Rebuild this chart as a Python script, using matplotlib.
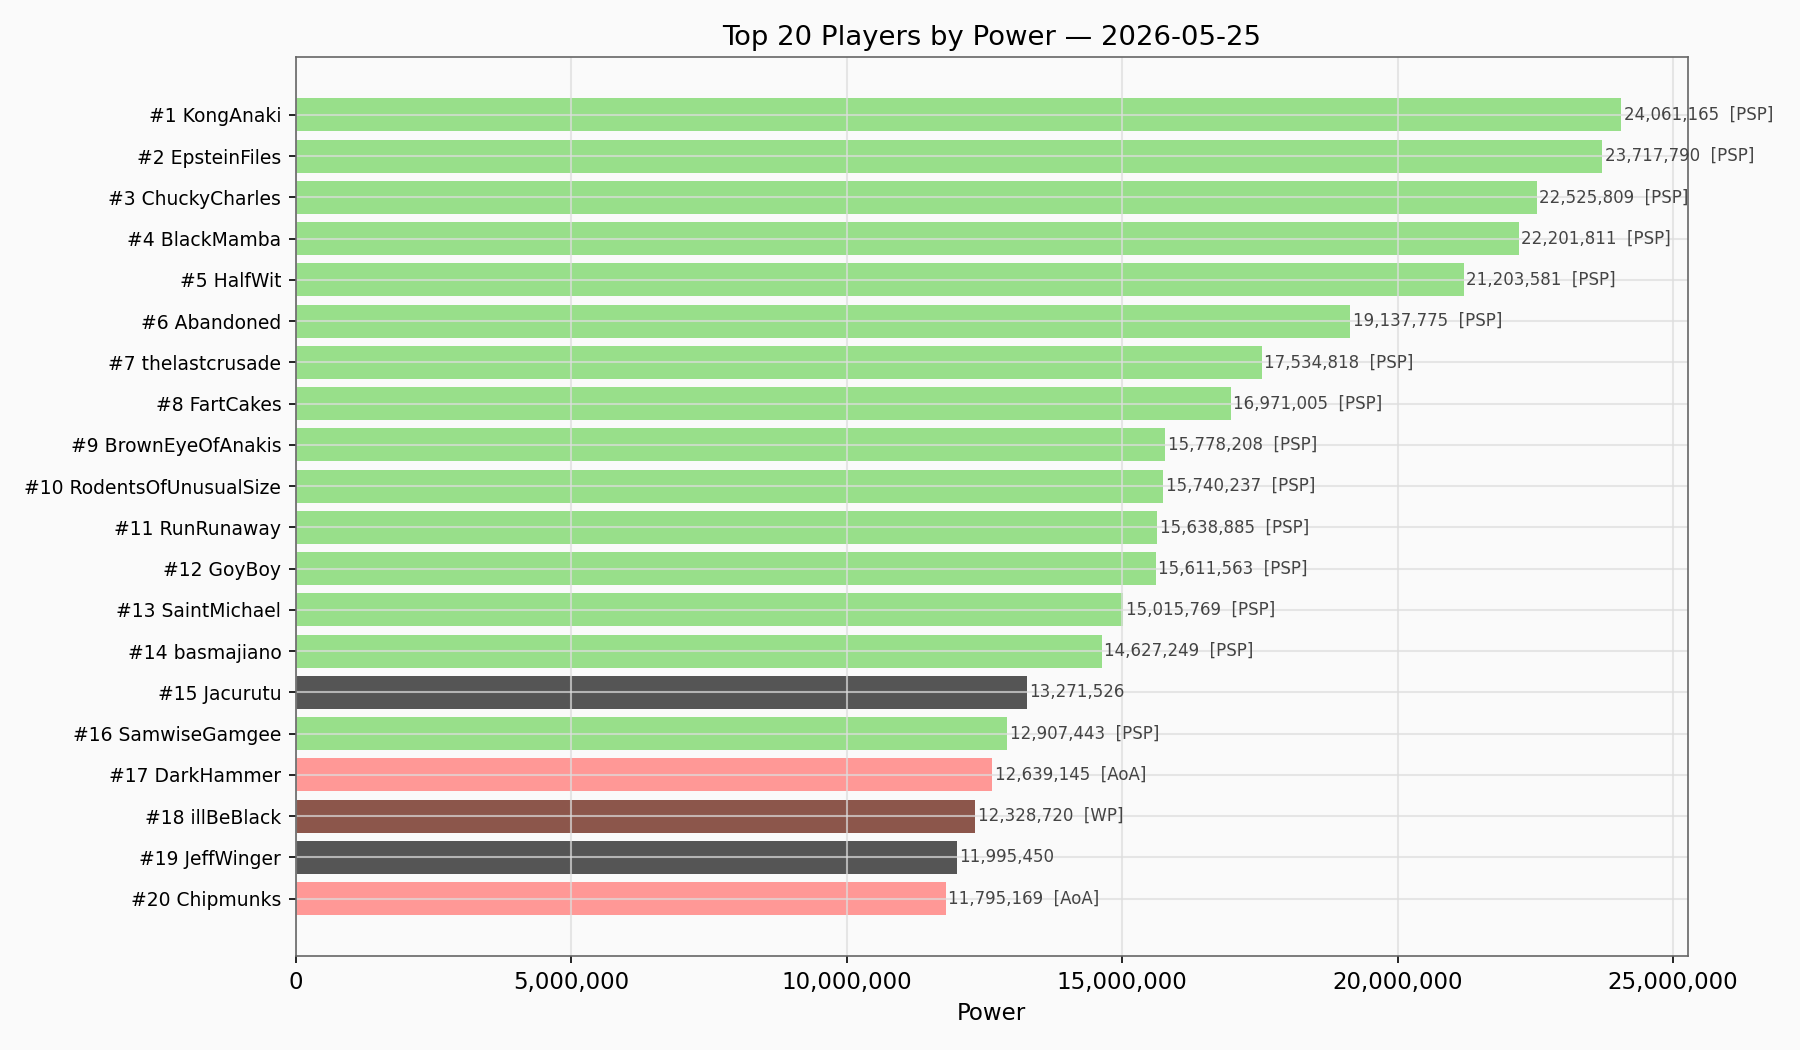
import matplotlib
matplotlib.use("Agg")
import matplotlib.pyplot as plt
from matplotlib.ticker import FuncFormatter

players = ["KongAnaki", "EpsteinFiles", "ChuckyCharles", "BlackMamba", "HalfWit",
           "Abandoned", "thelastcrusade", "FartCakes", "BrownEyeOfAnakis",
           "RodentsOfUnusualSize", "RunRunaway", "GoyBoy", "SaintMichael",
           "basmajiano", "Jacurutu", "SamwiseGamgee", "DarkHammer", "illBeBlack",
           "JeffWinger", "Chipmunks"]
power = [24061165, 23717790, 22525809, 22201811, 21203581, 19137775, 17534818,
         16971005, 15778208, 15740237, 15638885, 15611563, 15015769, 14627249,
         13271526, 12907443, 12639145, 12328720, 11995450, 11795169]
alliances = ["PSP", "PSP", "PSP", "PSP", "PSP", "PSP", "PSP", "PSP", "PSP", "PSP",
             "PSP", "PSP", "PSP", "PSP", "", "PSP", "AoA", "WP", "", "AoA"]

alliance_colors = {"PSP": "#98df8a", "AoA": "#ff9896", "WP": "#8c564b", "": "#555555"}

fig = plt.figure(figsize=(12, 7), dpi=150, facecolor="#fafafa")
ax = fig.add_axes([0.1644, 0.0895, 0.9375 - 0.1644, 0.9453 - 0.0895])
ax.set_facecolor("#fafafa")

labels = [f"#{i+1} {p}" for i, p in enumerate(players)]
colors = [alliance_colors[a] for a in alliances]
y = list(range(len(players)))
ax.barh(y, power, color=colors, height=0.8)
ax.set_yticks(y)
ax.set_yticklabels(labels, fontsize=9)
ax.invert_yaxis()
ax.set_xlim(0, max(power) * 1.05)

for yi, v, a in zip(y, power, alliances):
    txt = f"{v:,}" + (f"  [{a}]" if a else "")
    ax.text(v + max(power) * 0.002, yi, txt, va="center", ha="left",
            fontsize=8, color="#444444")

ax.xaxis.set_major_formatter(FuncFormatter(lambda x, p: f"{int(x):,}"))
ax.tick_params(axis="x", labelsize=11)
ax.set_xlabel("Power", fontsize=11)
ax.set_title("Top 20 Players by Power — 2026-05-25", fontsize=13.2)
ax.grid(True, color="#dddddd", alpha=0.7, linewidth=1)
for s in ax.spines.values():
    s.set_color("#666666")

fig.savefig("out.png", dpi=150, facecolor=fig.get_facecolor())
